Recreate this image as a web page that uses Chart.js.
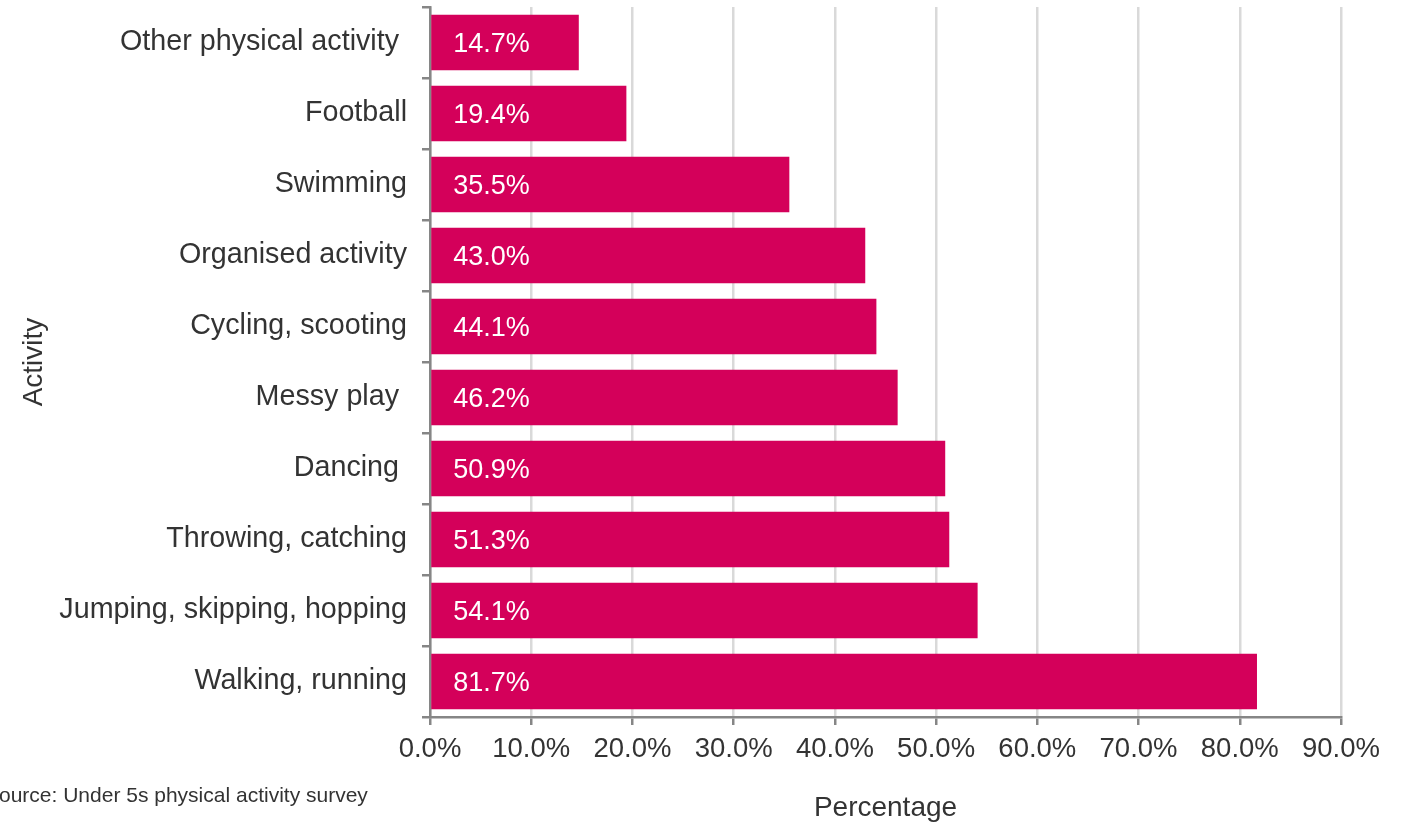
<!DOCTYPE html>
<html>
<head>
<meta charset="utf-8">
<script src="https://cdn.jsdelivr.net/npm/chart.js@4/dist/chart.umd.min.js"></script>
<style>
  html, body { margin: 0; padding: 0; background: #fff; overflow: hidden; }
  #wrap { position: relative; width: 1409px; height: 823px; }
  #source {
    position: absolute; left: -15px; top: 783px;
    font: 21px "Liberation Sans", Arial, sans-serif; color: #333;
    white-space: nowrap;
  }
</style>
</head>
<body>
<div id="wrap">
  <canvas id="chart" width="1409" height="823"></canvas>
  <div id="source">Source: Under 5s physical activity survey</div>
</div>
<script>
const activities = [
    "Other physical activity ",
    "Football",
    "Swimming",
    "Organised activity",
    "Cycling, scooting",
    "Messy play ",
    "Dancing ",
    "Throwing, catching",
    "Jumping, skipping, hopping",
    "Walking, running"
];
const percentages = [14.7, 19.4, 35.5, 43.0, 44.1, 46.2, 50.9, 51.3, 54.1, 81.7];
const xTicks = [0, 10, 20, 30, 40, 50, 60, 70, 80, 90];

const font = "'Liberation Sans', Arial, sans-serif";
const textColor = "#333333";
const axisGray = "#868686";

// white value labels inside the bars, left aligned
const barLabels = {
    id: "barLabels",
    afterDatasetsDraw(chart) {
        const ctx = chart.ctx;
        const meta = chart.getDatasetMeta(0);
        ctx.save();
        ctx.fillStyle = "#ffffff";
        ctx.font = "27px " + font;
        ctx.textAlign = "left";
        ctx.textBaseline = "middle";
        meta.data.forEach((bar, i) => {
            ctx.fillText(percentages[i].toFixed(1) + "%", bar.base + 22, bar.y + 2);
        });
        ctx.restore();
    }
};

const chart = new Chart("chart", {
    type: "bar",
    data: {
        labels: activities,
        datasets: [{
            data: percentages,
            backgroundColor: "#D4005A",
            barPercentage: 0.78,
            categoryPercentage: 1.0
        }]
    },
    options: {
        indexAxis: "y",
        responsive: false,
        animation: false,
        layout: {
            padding: { top: 7, right: 68, left: 0, bottom: 0 }
        },
        scales: {
            x: {
                min: 0,
                max: 90,
                afterBuildTicks(scale) {
                    scale.ticks = xTicks.map(v => ({ value: v }));
                },
                afterFit(scale) {
                    scale.height = 106;
                },
                grid: {
                    color: "#d9d9d9",
                    lineWidth: 2.5,
                    tickColor: axisGray,
                    tickLength: 8
                },
                border: { color: axisGray, width: 2.5 },
                ticks: {
                    color: textColor,
                    font: { family: font, size: 27.5 },
                    padding: 8,
                    callback: v => v.toFixed(1) + "%"
                },
                title: {
                    display: true,
                    text: "Percentage",
                    color: textColor,
                    font: { family: font, size: 28, lineHeight: 1.07 },
                    padding: { top: 15, bottom: 0 }
                }
            },
            y: {
                afterFit(scale) {
                    scale.width = 430;
                    scale.paddingTop = 0;
                    scale.paddingBottom = 0;
                },
                grid: {
                    offset: true,
                    drawOnChartArea: false,
                    lineWidth: 2.5,
                    color: axisGray,
                    tickColor: axisGray,
                    tickLength: 8
                },
                border: { color: axisGray, width: 2.5 },
                ticks: {
                    color: textColor,
                    font: { family: font, size: 28.7 },
                    padding: 15
                },
                title: {
                    display: true,
                    text: "Activity",
                    color: textColor,
                    font: { family: font, size: 28 },
                    padding: { top: 17 }
                }
            }
        },
        plugins: {
            legend: { display: false },
            tooltip: { enabled: false }
        }
    },
    plugins: [barLabels]
});
</script>
</body>
</html>
